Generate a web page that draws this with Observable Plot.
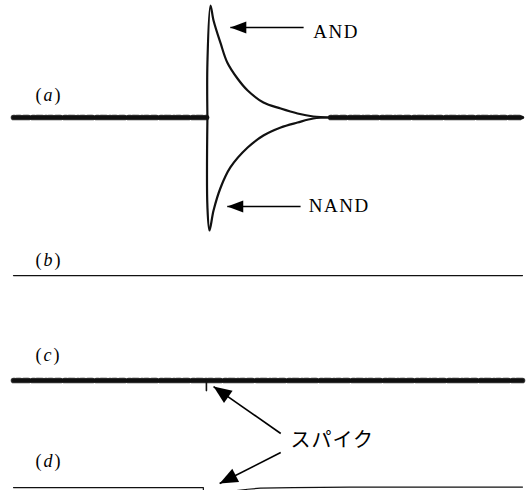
<!DOCTYPE html>
<html>
<head>
<meta charset="utf-8">
<script src="https://cdn.jsdelivr.net/npm/d3@7"></script>
<script src="https://cdn.jsdelivr.net/npm/@observablehq/plot@0.6"></script>
<style>
  body { margin: 0; background: #fff; }
  #chart svg { display: block; }
</style>
</head>
<body>
<div id="chart"></div>
<script>
// Time runs 0–100 (arbitrary units); signal level is scaled so the AND peak is 1.
const traceLabels = ["(a)", "(b)", "(c)", "(d)"];
const traceLevel  = [0, -1.411, -2.348, -3.304];
const labelLevel  = [0.196, -1.277, -2.125, -3.07];
const labelTime   = 4.3;

// Trace (a): noisy baseline, then the AND / NAND responses after the onset
const onset = 38.1;
const settle = 62.3;
const andTime   = [38.1, 38.1, 38.7, 39.3, 40.7, 42.0, 44.0, 46.0, 49.1, 52.5, 55.8, 58.9, 62.3];
const andValue  = [0, 0.49, 1.0, 0.866, 0.661, 0.491, 0.348, 0.241, 0.134, 0.080, 0.036, 0.009, 0];
const nandTime  = [38.1, 38.1, 38.5, 39.3, 40.7, 42.6, 46.0, 49.1, 52.5, 55.8, 58.9, 62.3];
const nandValue = [0, -0.80, -1.009, -0.83, -0.625, -0.446, -0.268, -0.161, -0.089, -0.045, -0.009, 0];

// Trace (c): noisy baseline with a small spike
const spikeTimeC  = [37.9, 37.9];
const spikeValueC = [0, -0.09];

// Trace (d): clean line with the spike and its recovery
const dLeftTime   = [0, 37.3, 37.3];
const dLeftValue  = [0, 0, -0.05];
const dRightTime  = [43.2, 46.0, 48.5, 55.0, 66.0, 100];
const dRightValue = [-0.03, -0.015, -0.005, 0, 0.005, 0.005];

// Annotations: arrow tail -> tip, text beside the tail
const arrowTailTime  = [57.0, 56.4, 52.5, 52.5];
const arrowTailValue = [0.804, -0.795, -2.821, -2.991];
const arrowTipTime   = [42.6, 42.0, 39.3, 40.5];
const arrowTipValue  = [0.804, -0.795, -2.402, -3.268];
const arrowHead      = ["small", "small", "large", "large"];
const noteText  = ["AND", "NAND", "スパイク"];
const noteTime  = [58.9, 58.0, 54.4];
const noteValue = [0.768, -0.79, -2.884];

const width = 528, height = 490;
const xDomain = [0, 100];
const yDomain = [-3.330, 1.0446];
const margins = {marginLeft: 13, marginRight: 6, marginTop: 0, marginBottom: 0};

const series = (times, values, level, z) =>
  times.map((t, i) => ({t, v: values[i] + level, z}));

const noisy = [
  ...series([0, onset], [0, 0], traceLevel[0], "a1"),
  ...series([settle, 100], [0, 0], traceLevel[0], "a2"),
  ...series([0, 100], [0, 0], traceLevel[2], "c")
];
const clean = [
  ...series([0, 100], [0, 0], traceLevel[1], "b"),
  ...series(dLeftTime, dLeftValue, traceLevel[3], "d1"),
  ...series(dRightTime, dRightValue, traceLevel[3], "d2")
];
const pulses = [
  ...series(andTime, andValue, traceLevel[0], "and"),
  ...series(nandTime, nandValue, traceLevel[0], "nand")
];
const spikeC = series(spikeTimeC, spikeValueC, traceLevel[2], "spike");

const labels = traceLabels.map((s, i) => ({s, t: labelTime, v: labelLevel[i]}));
const arrows = arrowTipTime.map((t, i) => ({
  t1: arrowTailTime[i], v1: arrowTailValue[i], t2: t, v2: arrowTipValue[i], head: arrowHead[i]
}));
const notes = noteText.map((s, i) => ({s, t: noteTime[i], v: noteValue[i]}));

// Pixel scales matching the plot, used to orient the filled arrowheads
const sx = Plot.scale({x: {domain: xDomain, range: [margins.marginLeft, width - margins.marginRight]}});
const sy = Plot.scale({y: {domain: yDomain, range: [height, 0]}});

function headSymbol(angle, L, W) {
  const c = Math.cos(angle), s = Math.sin(angle);
  return {
    draw(ctx) {
      const bx = -L * c, by = -L * s;
      ctx.moveTo(0, 0);
      ctx.lineTo(bx - W * s, by + W * c);
      ctx.lineTo(bx + W * s, by - W * c);
      ctx.closePath();
    }
  };
}

const headMarks = arrows.map(a => {
  const angle = Math.atan2(sy.apply(a.v2) - sy.apply(a.v1), sx.apply(a.t2) - sx.apply(a.t1));
  const [L, W] = a.head === "small" ? [16, 6] : [18, 7.5];
  return Plot.dot([a], {x: "t2", y: "v2", r: 6, fill: "#000", stroke: "none", symbol: headSymbol(angle, L, W)});
});

const plot = Plot.plot({
  width, height, ...margins,
  x: {domain: xDomain, axis: null},
  y: {domain: yDomain, axis: null},
  marks: [
    // noisy traces: solid core plus a ragged fringe
    Plot.line(noisy, {x: "t", y: "v", z: "z", stroke: "#111", strokeWidth: 3.4}),
    Plot.line(noisy, {x: "t", y: "v", z: "z", stroke: "#111", strokeWidth: 5.6, strokeOpacity: 0.85,
      strokeDasharray: "1,2,2,1,1,3,3,1,1,4,2,2,1,1,4,3"}),
    Plot.line(clean, {x: "t", y: "v", z: "z", stroke: "#111", strokeWidth: 1.2}),
    Plot.line(pulses, {x: "t", y: "v", z: "z", stroke: "#111", strokeWidth: 2.2, curve: "catmull-rom"}),
    Plot.line(spikeC, {x: "t", y: "v", stroke: "#111", strokeWidth: 1.6}),
    Plot.link(arrows, {x1: "t1", y1: "v1", x2: "t2", y2: "v2", stroke: "#000", strokeWidth: 1.6}),
    ...headMarks,
    Plot.text(labels, {x: "t", y: "v", text: "s", textAnchor: "start", lineAnchor: "middle",
      fontSize: 18, fontFamily: "Liberation Serif, Times New Roman, serif", fill: "#000"}),
    Plot.text(notes.slice(0, 2), {x: "t", y: "v", text: "s", textAnchor: "start", lineAnchor: "middle",
      fontSize: 19, fontFamily: "Liberation Serif, Times New Roman, serif", fill: "#000"}),
    Plot.text(notes.slice(2), {x: "t", y: "v", text: "s", textAnchor: "start", lineAnchor: "middle",
      fontSize: 20, fontFamily: "Noto Sans CJK JP, sans-serif", fill: "#000"})
  ]
});

// Trace labels: italic letter inside upright parentheses; spaced capitals for AND / NAND
plot.querySelectorAll("text").forEach(el => {
  const m = /^\((.)\)$/.exec(el.textContent);
  if (m) {
    el.textContent = "";
    el.append("(");
    const ts = document.createElementNS("http://www.w3.org/2000/svg", "tspan");
    ts.setAttribute("font-style", "italic");
    ts.textContent = m[1];
    el.append(ts, ")");
    el.setAttribute("letter-spacing", "2");
  } else if (el.textContent === "AND" || el.textContent === "NAND") {
    el.setAttribute("letter-spacing", "1.5");
  } else if (el.textContent === "スパイク") {
    el.setAttribute("letter-spacing", "1");
  }
});

document.getElementById("chart").append(plot);
</script>
</body>
</html>
